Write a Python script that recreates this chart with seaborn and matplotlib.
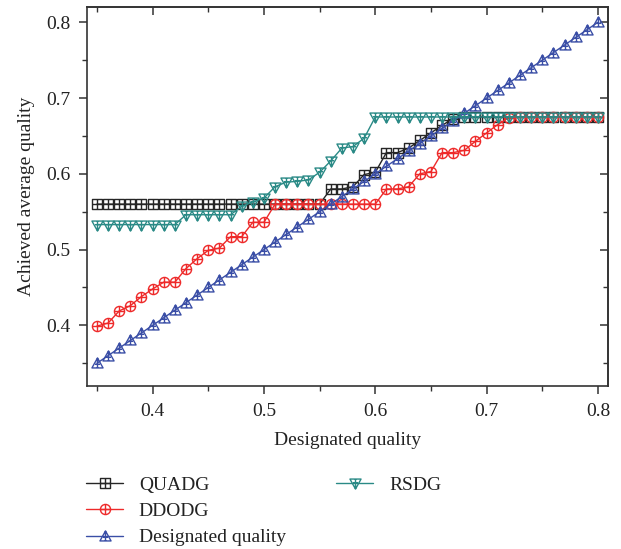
import numpy as np
import pandas as pd
import matplotlib
matplotlib.use("Agg")
import matplotlib.pyplot as plt
from matplotlib.path import Path
from matplotlib.lines import Line2D
from matplotlib.ticker import MultipleLocator, NullFormatter, FuncFormatter
import seaborn as sns

# Designated quality levels (x axis)
designated = [round(0.35 + 0.01 * i, 2) for i in range(46)]

quadg = [0.560] * 21 + [0.580, 0.580, 0.583, 0.599, 0.602, 0.628, 0.628,
                        0.634, 0.644, 0.654, 0.664, 0.673] + [0.675] * 13

ddodg = [0.399, 0.403, 0.419, 0.426, 0.438, 0.448, 0.457, 0.457, 0.475,
         0.488, 0.499, 0.502, 0.517, 0.517, 0.536, 0.536, 0.560] + [0.560] * 9 + \
        [0.580, 0.580, 0.583, 0.600, 0.603, 0.628, 0.628, 0.631, 0.643,
         0.654, 0.665, 0.674] + [0.675] * 8

rsdg = [0.533] * 8 + [0.546] * 5 + [0.557, 0.563, 0.568, 0.583, 0.589, 0.590,
                                    0.592, 0.602, 0.617, 0.634, 0.636, 0.647] + [0.675] * 21

series_names = ["QUADG", "DDODG", "Designated quality", "RSDG"]
series_colors = ["#262626", "#ee2a2a", "#3a4ea6", "#2a8a86"]


def boxed_plus(shape):
    """Open marker outline with a cross drawn inside it."""
    plus = Path([(-1, 0), (1, 0), (0, -1), (0, 1)],
                [Path.MOVETO, Path.LINETO, Path.MOVETO, Path.LINETO])
    if shape == "square":
        outline = Path([(-1, -1), (1, -1), (1, 1), (-1, 1), (-1, -1)],
                       [Path.MOVETO, Path.LINETO, Path.LINETO, Path.LINETO, Path.CLOSEPOLY])
        cross = plus
    elif shape == "circle":
        outline = Path.unit_circle()
        cross = plus
    elif shape == "tri_up":
        outline = Path([(0, 1), (-1, -0.8), (1, -0.8), (0, 1)],
                       [Path.MOVETO, Path.LINETO, Path.LINETO, Path.CLOSEPOLY])
        cross = Path([(0, 1), (0, -0.8), (-0.45, -0.15), (0.45, -0.15)],
                     [Path.MOVETO, Path.LINETO, Path.MOVETO, Path.LINETO])
    else:
        outline = Path([(0, -1), (-1, 0.8), (1, 0.8), (0, -1)],
                       [Path.MOVETO, Path.LINETO, Path.LINETO, Path.CLOSEPOLY])
        cross = Path([(0, -1), (0, 0.8), (-0.45, 0.15), (0.45, 0.15)],
                     [Path.MOVETO, Path.LINETO, Path.MOVETO, Path.LINETO])
    return Path.make_compound_path(outline, cross)


series_markers = [boxed_plus("square"), boxed_plus("circle"),
                  boxed_plus("tri_up"), boxed_plus("tri_down")]
series_values = [quadg, ddodg, designated, rsdg]
marker_sizes = [6.5, 7.3, 8.0, 8.0]

sns.set_style("ticks")
plt.rcParams["font.family"] = ["Liberation Serif", "DejaVu Serif"]

fig = plt.figure(figsize=(6.21, 5.49), dpi=100)
ax = fig.add_axes([0.140, 0.297, 0.839, 0.690])

for name, vals, col, mk, ms in zip(series_names, series_values, series_colors,
                                   series_markers, marker_sizes):
    df = pd.DataFrame({"x": designated, "y": vals})
    sns.lineplot(data=df, x="x", y="y", ax=ax, color=col, marker=mk,
                 markersize=ms, markerfacecolor="none", markeredgecolor=col,
                 markeredgewidth=1.0, linewidth=1.0, label=name, legend=False)

ax.set_xlim(0.341, 0.809)
ax.set_ylim(0.320, 0.820)
ax.xaxis.set_major_locator(MultipleLocator(0.1))
ax.xaxis.set_minor_locator(MultipleLocator(0.05))
ax.yaxis.set_major_locator(MultipleLocator(0.1))
ax.yaxis.set_minor_locator(MultipleLocator(0.05))
ax.xaxis.set_major_formatter(FuncFormatter(lambda v, p: f"{v:.1f}"))
ax.yaxis.set_major_formatter(FuncFormatter(lambda v, p: f"{v:.1f}"))

ax.tick_params(which="major", direction="out", length=6, width=1.1,
               labelsize=14, color="#333333", labelcolor="#222222", pad=6)
ax.tick_params(which="minor", direction="out", length=3.5, width=1.0, color="#333333")

# inward ticks along the top and right frame, without labels
sec_top = ax.secondary_xaxis("top")
sec_top.xaxis.set_major_locator(MultipleLocator(0.1))
sec_top.xaxis.set_minor_locator(MultipleLocator(0.05))
sec_top.xaxis.set_major_formatter(NullFormatter())
sec_top.tick_params(which="major", direction="in", length=6, width=1.1, color="#333333")
sec_top.tick_params(which="minor", direction="in", length=3.5, width=1.0, color="#333333")
sec_right = ax.secondary_yaxis("right")
sec_right.yaxis.set_major_locator(MultipleLocator(0.1))
sec_right.yaxis.set_minor_locator(MultipleLocator(0.05))
sec_right.yaxis.set_major_formatter(NullFormatter())
sec_right.tick_params(which="major", direction="in", length=6, width=1.1, color="#333333")
sec_right.tick_params(which="minor", direction="in", length=3.5, width=1.0, color="#333333")
for s in list(ax.spines.values()) + list(sec_top.spines.values()) + list(sec_right.spines.values()):
    s.set_linewidth(1.2)
    s.set_color("#333333")

ax.set_xlabel("Designated quality", fontsize=14, color="#222222", labelpad=9)
ax.set_ylabel("Achieved average quality", fontsize=14, color="#222222", labelpad=8)

handles = [Line2D([], [], color=c, marker=m, markersize=s, markerfacecolor="none",
                  markeredgecolor=c, markeredgewidth=1.0, linewidth=1.0)
           for c, m, s in zip(series_colors, series_markers, marker_sizes)]
blank = Line2D([], [], linestyle="none")
fig.legend(handles[:3] + [handles[3], blank, blank],
           series_names[:3] + [series_names[3], "", ""],
           loc="upper left", bbox_to_anchor=(0.139, 0.133), ncol=2, frameon=False,
           fontsize=14, handlelength=1.9, handletextpad=0.8, columnspacing=2.6,
           labelspacing=0.45, borderpad=0, borderaxespad=0, labelcolor="#222222")

fig.savefig("out.png", dpi=100)
